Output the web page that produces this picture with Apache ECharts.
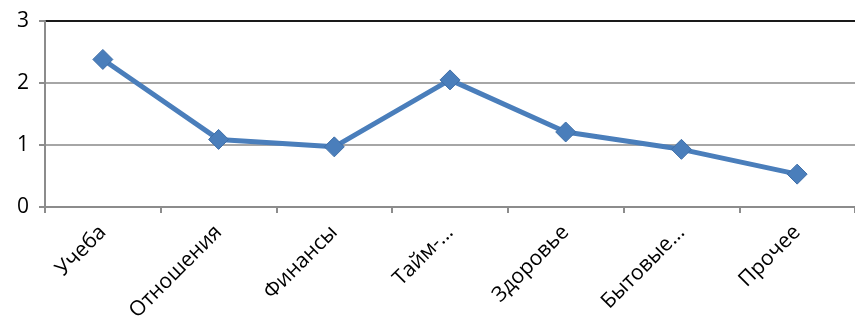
<!DOCTYPE html>
<html>
<head>
<meta charset="utf-8">
<script src="https://cdn.jsdelivr.net/npm/echarts@6/dist/echarts.min.js"></script>
<style>
  html, body { margin: 0; padding: 0; background: #fff; }
  #chart { width: 855px; height: 334px; }
</style>
</head>
<body>
<div id="chart"></div>
<script>
const categories = ['Учеба', 'Отношения', 'Финансы', 'Тайм-...', 'Здоровье', 'Бытовые...', 'Прочее'];
const values = [2.38, 1.09, 0.97, 2.05, 1.21, 0.93, 0.53];
const yTicks = [0, 1, 2, 3];

const chart = echarts.init(document.getElementById('chart'));

chart.setOption({
    animation: false,
    grid: { left: 45, top: 21, bottom: 127, right: -10 },
    xAxis: {
        type: 'category',
        data: categories,
        boundaryGap: true,
        axisLine: { lineStyle: { color: '#8c8c8c', width: 2 } },
        axisTick: { show: true, length: 6, lineStyle: { color: '#8c8c8c', width: 2 } },
        axisLabel: {
            rotate: 45,
            interval: 0,
            margin: 22,
            color: '#000',
            fontSize: 21,
            fontFamily: 'Open Sans'
        },
        splitLine: { show: false }
    },
    yAxis: {
        type: 'value',
        min: yTicks[0],
        max: yTicks[yTicks.length - 1],
        interval: 1,
        axisLine: { show: true, lineStyle: { color: '#8c8c8c', width: 2 } },
        axisTick: { show: true, length: 6, lineStyle: { color: '#8c8c8c', width: 2 } },
        axisLabel: {
            margin: 16,
            color: '#000',
            fontSize: 21,
            fontFamily: 'Open Sans'
        },
        splitLine: {
            show: true,
            lineStyle: { color: ['#8c8c8c', '#a6a6a6', '#a6a6a6', '#1a1a1a'], width: 2 }
        }
    },
    series: [{
        type: 'line',
        data: values,
        symbol: 'diamond',
        symbolSize: 20,
        lineStyle: { color: '#4a7ebb', width: 5 },
        itemStyle: { color: '#4a7ebb', borderColor: '#3f6fa8', borderWidth: 1 }
    }]
});
</script>
</body>
</html>
